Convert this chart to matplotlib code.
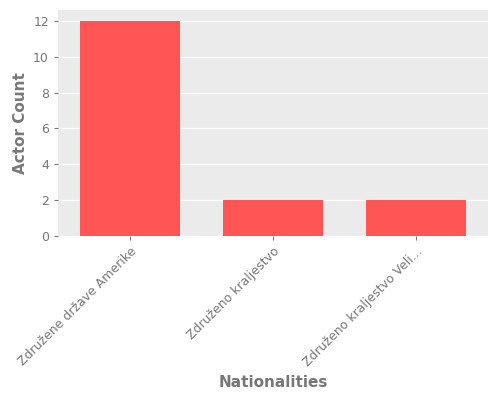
import matplotlib
matplotlib.use("Agg")
import matplotlib.pyplot as plt

categories = ["Združene države Amerike", "Združeno kraljestvo", "Združeno kraljestvo Veli..."]
values = [12, 2, 2]

fig = plt.figure(figsize=(5, 4), dpi=100)
ax = fig.add_axes([0.116, 0.41, 0.86, 0.565])
ax.set_facecolor("#EBEBEB")
ax.bar(range(len(categories)), values, width=0.7, color="#FF5555", zorder=3)
ax.set_xlim(-0.5, 2.5)
ax.set_ylim(0, 12.6)
ax.set_yticks([0, 2, 4, 6, 8, 10, 12])
ax.grid(axis="y", color="white", linewidth=1, zorder=0)
for s in ax.spines.values():
    s.set_visible(False)
ax.set_xticks(range(len(categories)))
ax.set_xticklabels(categories, rotation=45, ha="right", rotation_mode="anchor")
ax.tick_params(colors="#777777", labelsize=9, length=3)
ax.tick_params(axis="x", labelcolor="#777777")
ax.set_ylabel("Actor Count", color="#777777", fontsize=11, fontweight="bold")
ax.set_xlabel("Nationalities", color="#777777", fontsize=11, fontweight="bold")
fig.savefig("out.png", dpi=100)
